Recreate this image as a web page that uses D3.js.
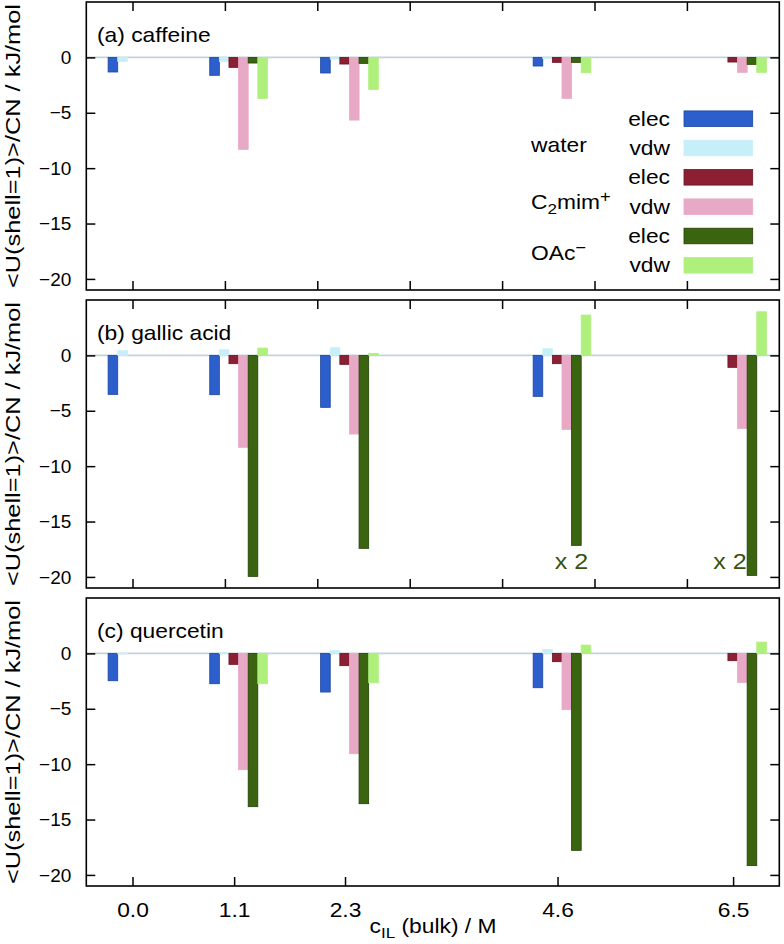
<!DOCTYPE html>
<html>
<head>
<meta charset="utf-8">
<script src="https://cdn.jsdelivr.net/npm/d3@7"></script>
<style>
  body { margin: 0; background: #fff; }
  text { font-family: "Liberation Sans", Arial, sans-serif; fill: #000; }
</style>
</head>
<body>
<script>
// concentrations and tick labels
var concs = [0.0, 1.1, 2.3, 4.6, 6.5];
var concLabels = ["0.0", "1.1", "2.3", "4.6", "6.5"];
var yTicks = [0, -5, -10, -15, -20];
var intTicks = [0, 1, 2, 3, 4, 5, 6];

var seriesNames = ["water elec", "water vdw", "C2mim+ elec", "C2mim+ vdw", "OAc- elec", "OAc- vdw"];
var seriesFill = ["#2c5fcc", "#c6eff9", "#8b1f33", "#e8a9c6", "#3a640f", "#aff07c"];
var seriesStroke = ["#1c45a0", "#c6eff9", "#6a1424", "#e8a9c6", "#223f06", "#aff07c"];

// (a) caffeine
var cafWaterElec = [-1.32, -1.62, -1.41, -0.78, 0];
var cafWaterVdw  = [-0.36, -0.36, -0.15, -0.1, 0];
var cafCatElec   = [null, -0.9, -0.6, -0.45, -0.42];
var cafCatVdw    = [null, -8.3, -5.66, -3.7, -1.35];
var cafAnElec    = [null, -0.51, -0.54, -0.45, -0.63];
var cafAnVdw     = [null, -3.7, -2.89, -1.38, -1.35];

// (b) gallic acid
var galWaterElec = [-3.52, -3.55, -4.69, -3.7, 0];
var galWaterVdw  = [0.42, 0.51, 0.69, 0.6, 0];
var galCatElec   = [null, -0.75, -0.81, -0.75, -1.08];
var galCatVdw    = [null, -8.3, -7.1, -6.68, -6.59];
var galAnElec    = [null, -19.95, -17.42, -17.15, -19.86];
var galAnVdw     = [null, 0.66, 0.18, 3.64, 3.94];

// (c) quercetin
var queWaterElec = [-2.47, -2.74, -3.49, -3.1, 0];
var queWaterVdw  = [-0.05, 0.05, 0.24, 0.36, 0];
var queCatElec   = [null, -0.99, -1.11, -0.75, -0.66];
var queCatVdw    = [null, -10.5, -9.06, -5.08, -2.62];
var queAnElec    = [null, -13.84, -13.57, -17.78, -19.16];
var queAnVdw     = [null, -2.74, -2.65, 0.75, 1.02];

var panels = [
  {label: "(a) caffeine", series: [cafWaterElec, cafWaterVdw, cafCatElec, cafCatVdw, cafAnElec, cafAnVdw], times2: []},
  {label: "(b) gallic acid", series: [galWaterElec, galWaterVdw, galCatElec, galCatVdw, galAnElec, galAnVdw], times2: [4.6, 6.5]},
  {label: "(c) quercetin", series: [queWaterElec, queWaterVdw, queCatElec, queCatVdw, queAnElec, queAnVdw], times2: []}
];

var width = 784, height = 944;
var SX = 1.14;          // horizontal stretch of the text
var panelTop = [2, 300, 598], panelH = 288;
var barW = 0.104, firstOff = -0.212;

var svg = d3.select("body").append("svg")
    .attr("width", width)
    .attr("height", height);

var x = d3.scaleLinear().domain([-0.5, 7]).range([86.3, 779.3]);

function txt(g, px, py, s, anchor) {
  return g.append("text")
    .attr("transform", "translate(" + px + "," + py + ") scale(" + SX + ",1)")
    .attr("text-anchor", anchor || "start")
    .style("font-size", "20px")
    .text(s);
}

panels.forEach(function(p, k) {
  var top = panelTop[k];
  var y = d3.scaleLinear().domain([-21, 5]).range([top + panelH, top]);
  var g = svg.append("g");

  // zero line
  g.append("line")
    .attr("x1", x(-0.5)).attr("x2", x(7))
    .attr("y1", y(0)).attr("y2", y(0))
    .attr("stroke", "#c3d3da").attr("stroke-width", 1.6);

  // bars
  p.series.forEach(function(vals, i) {
    var data = concs.map(function(c, j) { return {c: c, v: vals[j]}; })
                    .filter(function(d) { return d.v !== null && d.v !== 0; });
    g.selectAll(null).data(data).enter().append("rect")
      .attr("x", function(d) { return x(d.c + firstOff + i * barW - barW / 2); })
      .attr("width", x(barW) - x(0))
      .attr("y", function(d) { return Math.min(y(d.v), y(0)); })
      .attr("height", function(d) { return Math.abs(y(d.v) - y(0)); })
      .attr("fill", seriesFill[i])
      .attr("stroke", seriesStroke[i])
      .attr("stroke-width", 0.8);
  });

  // y axes, ticks inward
  var yl = g.append("g").attr("transform", "translate(" + x(-0.5) + ",0)")
    .call(d3.axisLeft(y).tickValues(yTicks).tickSizeInner(-9).tickSizeOuter(0).tickPadding(15));
  yl.selectAll("text").style("font-size", "19px")
    .attr("font-family", "Liberation Sans, Arial, sans-serif");
  g.append("g").attr("transform", "translate(" + x(7) + ",0)")
    .call(d3.axisRight(y).tickValues(yTicks).tickSizeInner(-9).tickSizeOuter(0).tickFormat(""));

  // x axes
  if (k < 2) {
    g.append("g").attr("transform", "translate(0," + (top + panelH) + ")")
      .call(d3.axisBottom(x).tickValues(intTicks).tickSizeInner(-9).tickSizeOuter(0).tickFormat(""));
    g.append("g").attr("transform", "translate(0," + top + ")")
      .call(d3.axisTop(x).tickValues(intTicks).tickSizeInner(-9).tickSizeOuter(0).tickFormat(""));
  } else {
    var xb = g.append("g").attr("transform", "translate(0," + (top + panelH) + ")")
      .call(d3.axisBottom(x).tickValues(concs).tickSizeInner(-9).tickSizeOuter(0).tickPadding(17)
        .tickFormat(function(d, i) { return concLabels[i]; }));
    xb.selectAll("text").style("font-size", "20px")
      .attr("font-family", "Liberation Sans, Arial, sans-serif")
      .attr("transform", "scale(" + SX + ",1)");
  }
  g.selectAll(".domain").remove();
  g.selectAll(".tick line").attr("stroke", "#000").attr("stroke-width", 1.5);

  // frame
  g.append("rect")
    .attr("x", x(-0.5)).attr("y", top)
    .attr("width", x(7) - x(-0.5)).attr("height", panelH)
    .attr("fill", "none").attr("stroke", "#000").attr("stroke-width", 1.6);

  // panel title
  txt(g, 97, top + 40, p.label);

  // "x 2" notes
  p.times2.forEach(function(c) {
    txt(g, x(c + firstOff + 4 * barW) + (c > 6 ? -22 : -5), y(-19.3), "x 2", "middle")
      .style("font-size", "22px")
      .style("fill", "#34530e");
  });

  // y label
  g.append("text")
    .attr("transform", "translate(20," + (top + panelH / 2) + ") rotate(-90)")
    .attr("text-anchor", "middle")
    .attr("textLength", 284)
    .attr("lengthAdjust", "spacingAndGlyphs")
    .style("font-size", "20px")
    .text("<U(shell=1)>/CN / kJ/mol");
});

// legend in panel (a)
var lg = svg.append("g");
var rowY = [118.7, 148, 177.3, 206.7, 236, 265.3];
var subLabels = ["elec", "vdw", "elec", "vdw", "elec", "vdw"];
rowY.forEach(function(ry, i) {
  lg.append("rect")
    .attr("x", 684).attr("y", ry - 7.8)
    .attr("width", 68.7).attr("height", 15.6)
    .attr("fill", seriesFill[i]).attr("stroke", seriesStroke[i]).attr("stroke-width", 0.8);
  txt(lg, 670, ry + 7, subLabels[i], "end");
});
txt(lg, 531, 152, "water");
var cat = txt(lg, 531, 209, "C");
cat.append("tspan").attr("baseline-shift", "-30%").style("font-size", "15px").text("2");
cat.append("tspan").text("mim");
cat.append("tspan").attr("baseline-shift", "45%").style("font-size", "16px").text("+");
var an = txt(lg, 531, 260, "OAc");
an.append("tspan").attr("baseline-shift", "45%").style("font-size", "16px").text("\u2212");

// x label
var xl = txt(svg, 433, 933, "c", "middle");
xl.append("tspan").attr("baseline-shift", "-30%").style("font-size", "15px").text("IL");
xl.append("tspan").text(" (bulk) / M");
</script>
</body>
</html>
